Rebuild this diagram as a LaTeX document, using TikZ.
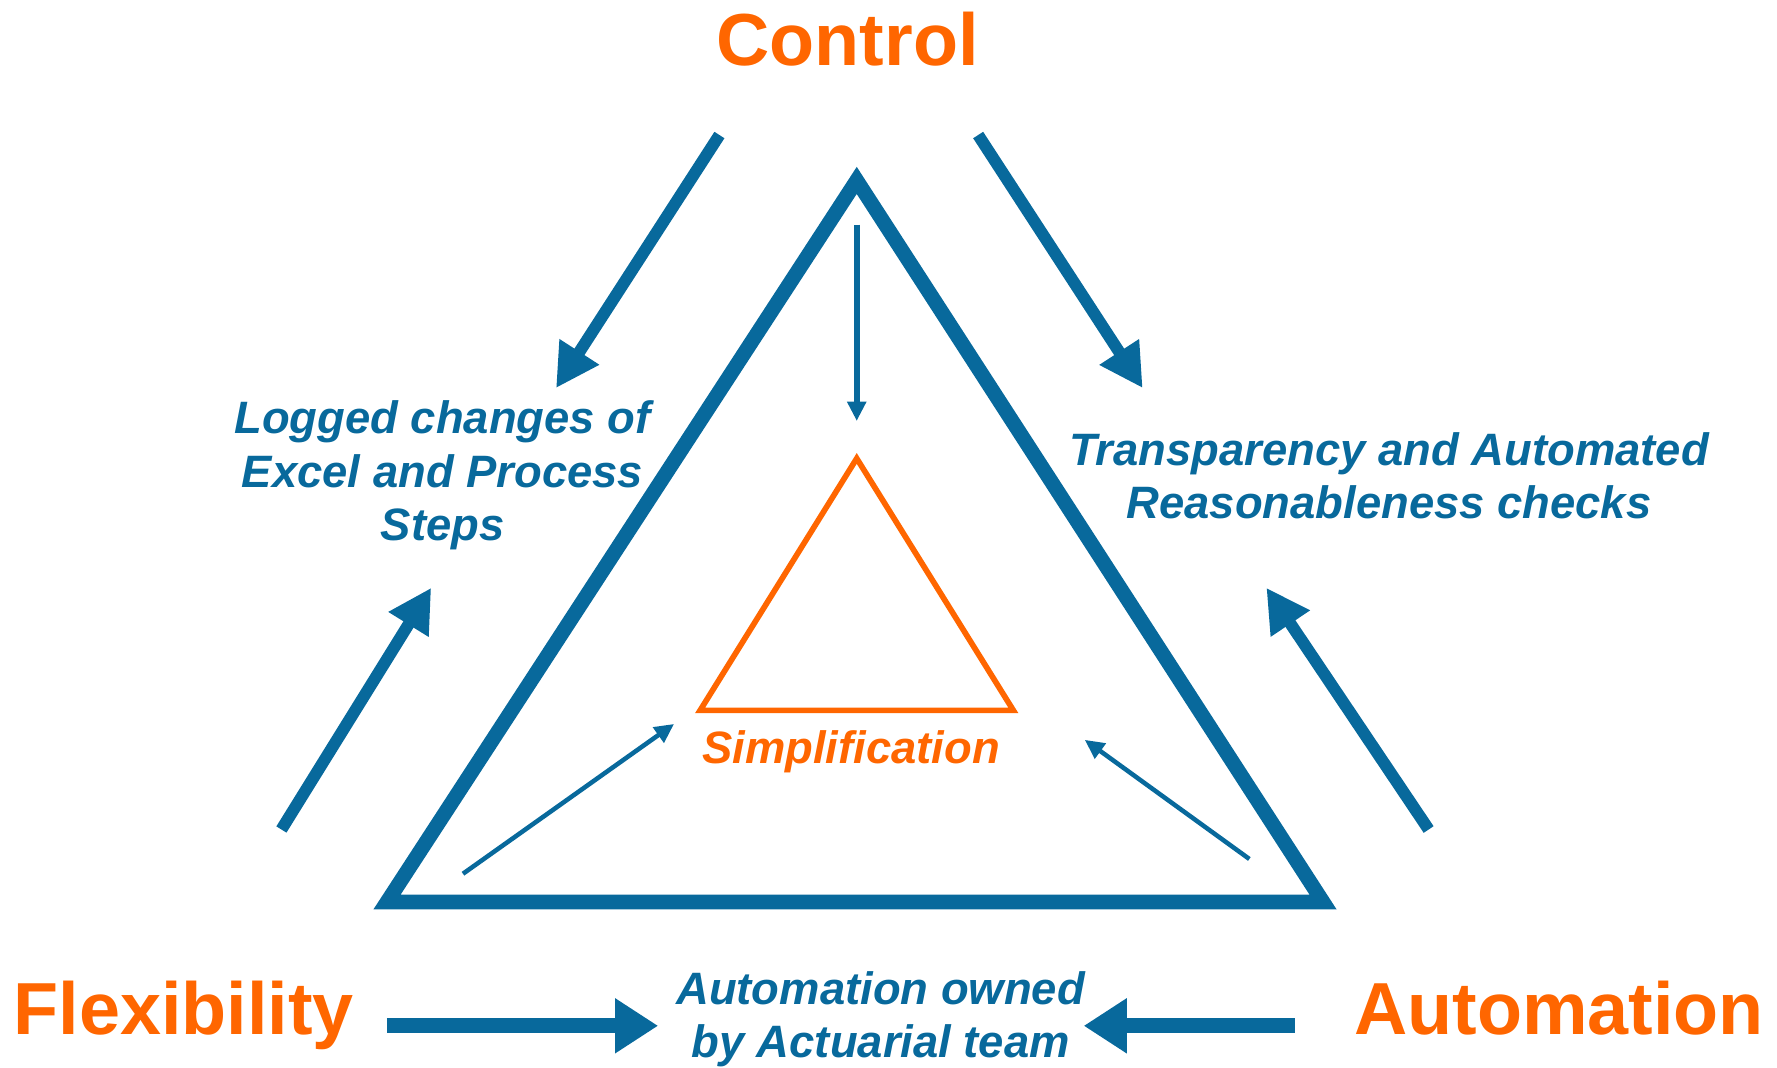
\documentclass[tikz,border=0pt]{standalone}
\usepackage{fontspec}
\setmainfont{Liberation Sans}
\usetikzlibrary{arrows.meta,positioning}
\definecolor{tblue}{HTML}{08699C}
\definecolor{torange}{HTML}{FF6600}
\begin{document}
\begin{tikzpicture}[x=1pt,y=-1pt,
  title/.style={text=torange,font=\fontsize{65}{70}\selectfont\bfseries,anchor=base,inner sep=0pt},
  note/.style={text=tblue,font=\fontsize{40}{47}\selectfont\bfseries\itshape,align=center,inner sep=0pt},
  big/.style={tblue,line width=10.5pt,-{Triangle[length=38pt,width=39pt]}},
  flat/.style={tblue,line width=13pt,-{Triangle[length=38pt,width=46pt]}},
  thin/.style={tblue,line width=4pt,-{Triangle[length=17pt,width=16pt]}}]
\useasboundingbox (0,0) rectangle (1566,941);
% corners of the two triangles
\coordinate (top) at (755,159);
\coordinate (bl) at (341,795);
\coordinate (br) at (1166,795);
\coordinate (itop) at (755,404);
\coordinate (ibl) at (617,626);
\coordinate (ibr) at (893,626);
\draw[tblue,line width=13pt] (top) -- (bl) -- (br) -- cycle;
\draw[torange,line width=5pt] (itop) -- (ibl) -- (ibr) -- cycle;
% labels
\node[title] (ctrl) at (747,58) {Control};
\node[title] (flex) at (162,912) {Flexibility};
\node[title] (auto) at (1374,912) {Automation};
\node[title,font=\fontsize{40}{46}\selectfont\bfseries\itshape] (simp) at (750,673) {Simplification};
\node[note] (logged) at (390,419) {Logged changes of\\Excel and Process\\Steps};
\node[note] (transp) at (1224,419) {Transparency and Automated\\Reasonableness checks};
\node[note] (owned) at (776,898) {Automation owned\\by Actuarial team};
% arrow ends
\coordinate (c1) at (634,119);
\coordinate (c1e) at (490,342);
\coordinate (c2) at (862,119);
\coordinate (c2e) at (1007,342);
\coordinate (f1) at (248,731);
\coordinate (f1e) at (380,518);
\coordinate (a1) at (1259,731);
\coordinate (a1e) at (1116,518);
\coordinate (f2) at (341,904);
\coordinate (f2e) at (580,904);
\coordinate (a2) at (1141,904);
\coordinate (a2e) at (955,904);
\coordinate (s1) at (755,198);
\coordinate (s1e) at (755,371);
\coordinate (s2) at (408,770);
\coordinate (s2e) at (594,638);
\coordinate (s3) at (1101,757);
\coordinate (s3e) at (956,652);
\draw[big] (c1) -- (c1e);
\draw[big] (c2) -- (c2e);
\draw[big] (f1) -- (f1e);
\draw[big] (a1) -- (a1e);
\draw[flat] (f2) -- (f2e);
\draw[flat] (a2) -- (a2e);
\draw[thin,line width=5pt] (s1) -- (s1e);
\draw[thin] (s2) -- (s2e);
\draw[thin] (s3) -- (s3e);
\end{tikzpicture}
\end{document}
